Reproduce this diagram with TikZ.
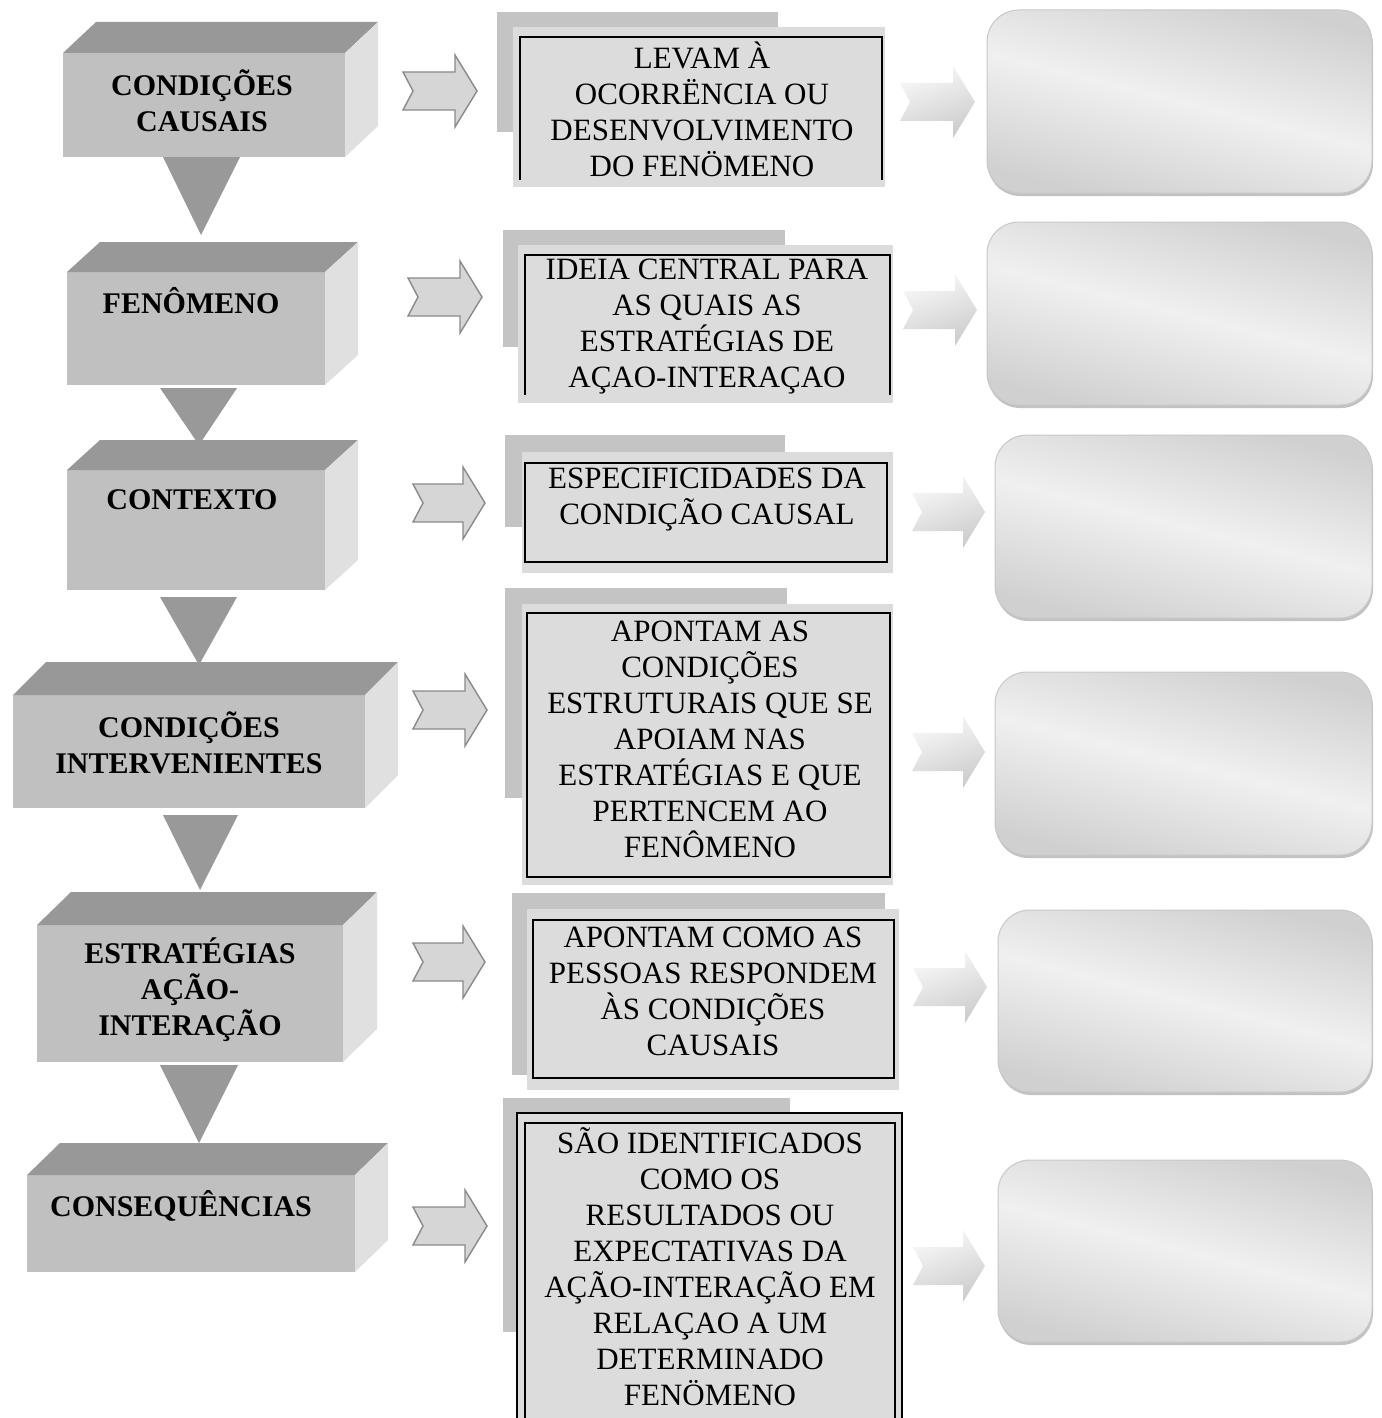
\documentclass[tikz,border=0pt]{standalone}
\usepackage{fontspec}
\setmainfont{Liberation Serif}
\definecolor{topface}{HTML}{989898}
\definecolor{frontface}{HTML}{C0C0C0}
\definecolor{sideface}{HTML}{E0E0E0}
\definecolor{trigray}{HTML}{999999}
\definecolor{backbar}{HTML}{C4C4C4}
\definecolor{panel}{HTML}{DCDCDC}
\definecolor{arrowfill}{HTML}{D6D6D6}
\definecolor{arrowline}{HTML}{8A8A8A}
\definecolor{boxline}{HTML}{C8C8C8}
\definecolor{boxshadow}{HTML}{C2C2C2}
\definecolor{glossdark}{HTML}{D0D0D0}
\definecolor{glosslight}{HTML}{F0F0F0}
\newcommand{\cubeblock}[6]{%
  \fill[frontface] (#1,#3) rectangle (#2,#4);
  \fill[topface] (#1,#3) -- ({#1+#5},{#3-#6}) -- ({#2+#5},{#3-#6}) -- (#2,#3) -- cycle;
  \fill[sideface] (#2,#3) -- ({#2+#5},{#3-#6}) -- ({#2+#5},{#4-#6}) -- (#2,#4) -- cycle;
}
\newcommand{\downtri}[5]{%
  \fill[trigray] (#1,#3) -- (#2,#3) -- (#4,#5) -- cycle;
}
\newcommand{\notchshape}[3]{(#1,{#3-19}) -- ({#2-22},{#3-19}) -- ({#2-22},{#3-36}) -- (#2,#3) -- ({#2-22},{#3+36}) -- ({#2-22},{#3+19}) -- (#1,{#3+19}) -- ({#1+10},#3) -- cycle}
\newcommand{\leftarrowshape}[3]{%
  \draw[fill=arrowfill, draw=arrowline, line width=1.4pt, line join=miter] \notchshape{#1}{#2}{#3};
}
\newcommand{\rightarrowshape}[3]{%
  \shade[top color=gray!5, bottom color=gray!40, shading angle=20] \notchshape{#1}{#2}{#3};
}
\newcommand{\glossbox}[4]{%
  \fill[boxshadow, rounded corners=32pt] ({#1+1},{#2+3}) rectangle ({#3+1},{#4+3});
  \shade[draw=boxline, line width=1pt, rounded corners=32pt, top color=glossdark, bottom color=glossdark, middle color=glosslight, shading angle=-14] (#1,#2) rectangle (#3,#4);
}
\tikzset{
  lefttxt/.style={font=\bfseries\fontsize{30}{36}\selectfont, align=center, inner sep=0pt},
  midtxt/.style={font=\fontsize{31}{36}\selectfont, align=center, inner sep=0pt},
  frameline/.style={draw=black, line width=2.4pt},
  thinframe/.style={draw=black, line width=1.8pt}
}
\begin{document}
\begin{tikzpicture}[x=1pt, y=-1pt]
\useasboundingbox[fill=white] (0,0) rectangle (1381,1418);

% ---- down triangles (behind blocks)
\downtri{163}{240}{157}{201}{235}
\downtri{160}{237}{388}{199}{445}
\downtri{160}{237}{597}{199}{665}
\downtri{163}{238}{815}{200}{890}
\downtri{160}{238}{1065}{199}{1143}

% ---- left 3D blocks
\cubeblock{63}{345}{53}{157}{33}{31}
\cubeblock{67}{325}{272}{385}{33}{30}
\cubeblock{67}{325}{470}{590}{33}{30}
\cubeblock{13}{365}{695}{808}{33}{33}
\cubeblock{37}{343}{925}{1062}{34}{33}
\cubeblock{27}{355}{1175}{1272}{33}{32}

\node[lefttxt] (cc) at (202,101) {CONDIÇÕES\\CAUSAIS};
\node[lefttxt] (fen) at (191,301) {FENÔMENO};
\node[lefttxt] (ctx) at (192,500) {CONTEXTO};
\node[lefttxt] (ci) at (189,743) {CONDIÇÕES\\INTERVENIENTES};
\node[lefttxt] (est) at (190,990) {ESTRATÉGIAS\\AÇÃO-\\INTERAÇÃO};
\node[lefttxt] (cons) at (181,1206) {CONSEQUÊNCIAS};

% ---- left notched arrows
\leftarrowshape{403}{477}{91}
\leftarrowshape{408}{482}{297}
\leftarrowshape{413}{485}{503}
\leftarrowshape{413}{487}{710}
\leftarrowshape{413}{485}{962}
\leftarrowshape{413}{487}{1226}

% ---- middle panels
% row 1
\fill[backbar] (497,12) rectangle (778,132);
\fill[panel] (513,27) rectangle (885,187);
\draw[frameline] (520,180) -- (520,37) -- (882,37) -- (882,180);
% row 2
\fill[backbar] (503,230) rectangle (785,347);
\fill[panel] (518,245) rectangle (893,403);
\draw[frameline] (525,395) -- (525,255) -- (890,255) -- (890,395);
% row 3
\fill[backbar] (505,435) rectangle (785,527);
\fill[panel] (522,452) rectangle (893,573);
\draw[frameline] (525,463) rectangle (887,562);
% row 4
\fill[backbar] (505,588) rectangle (787,798);
\fill[panel] (522,604) rectangle (893,885);
\draw[frameline] (527,613) rectangle (890,877);
% row 5
\fill[backbar] (512,893) rectangle (885,1075);
\fill[panel] (527,909) rectangle (899,1090);
\draw[frameline] (533,920) rectangle (894,1078);
% row 6
\fill[backbar] (503,1098) rectangle (790,1332);
\fill[panel] (517,1113) rectangle (902,1418);
\draw[thinframe] (517,1418) -- (517,1113) -- (902,1113) -- (902,1418);
\draw[thinframe] (525,1418) -- (525,1123) -- (895,1123) -- (895,1418);

\node[midtxt] (m1) at (702,109) {LEVAM À\\OCORRËNCIA OU\\DESENVOLVIMENTO\\DO FENÖMENO};
\node[midtxt] (m2) at (707,327) {IDEIA CENTRAL PARA\\AS QUAIS AS\\ESTRATÉGIAS DE\\AÇAO-INTERAÇAO};
\node[midtxt] (m3) at (707,500) {ESPECIFICIDADES DA\\CONDIÇÃO CAUSAL};
\node[midtxt] (m4) at (710,739) {APONTAM AS\\CONDIÇÕES\\ESTRUTURAIS QUE SE\\APOIAM NAS\\ESTRATÉGIAS E QUE\\PERTENCEM AO\\FENÔMENO};
\node[midtxt] (m5) at (713,991) {APONTAM COMO AS\\PESSOAS RESPONDEM\\ÀS CONDIÇÕES\\CAUSAIS};
\node[midtxt] (m6) at (710,1267) {SÃO IDENTIFICADOS\\COMO OS\\RESULTADOS OU\\EXPECTATIVAS DA\\AÇÃO-INTERAÇÃO EM\\RELAÇAO A UM\\DETERMINADO\\FENÖMENO};

% ---- right shaded arrows
\rightarrowshape{900}{975}{102}
\rightarrowshape{903}{977}{310}
\rightarrowshape{912}{985}{512}
\rightarrowshape{912}{985}{752}
\rightarrowshape{913}{987}{987}
\rightarrowshape{913}{985}{1266}

% ---- right rounded boxes
\glossbox{987}{10}{1372}{193}
\glossbox{987}{222}{1372}{405}
\glossbox{995}{435}{1372}{618}
\glossbox{995}{672}{1372}{855}
\glossbox{998}{910}{1372}{1092}
\glossbox{998}{1160}{1372}{1342}
\end{tikzpicture}
\end{document}
